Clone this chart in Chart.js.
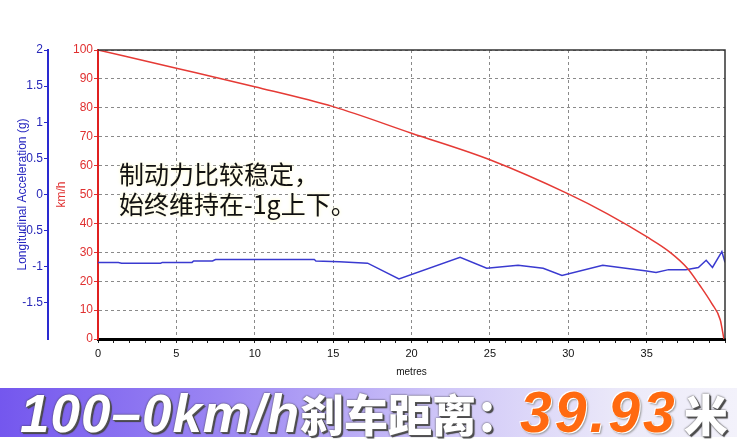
<!DOCTYPE html>
<html>
<head>
<meta charset="utf-8">
<script src="https://cdn.jsdelivr.net/npm/chart.js@4"></script>
<style>
  body { margin: 0; background: #fff; }
  #wrap { position: relative; width: 737px; height: 439px; overflow: hidden; }
  #chart { position: absolute; left: 0; top: 0; }
  #note {
    position: absolute; left: 119px; top: 158px;
    font-family: "Noto Sans CJK SC", sans-serif; font-size: 25px; line-height: 30px;
    color: #111; text-shadow: 0 0 3px #fffbd8, 0 0 5px #fffbd8;
  }
  #banner {
    position: absolute; left: 0; top: 388px; width: 737px; height: 49px;
    background: linear-gradient(90deg, #7457ee 0%, #9b86f3 30%, #cfc6f8 60%, #eceaf9 85%, #f3f2fb 100%);
    white-space: nowrap; line-height: 49px;
    font-weight: bold; font-style: italic; color: #fff;
    text-shadow: 1px 1px 0 #555, 2px 2px 1px #444, 0 0 2px #333;
  }
  #banner .lat { font-family: "Liberation Sans", Arial, sans-serif; font-size: 53px; letter-spacing: 1px; }
  #banner .cjk { font-family: "Noto Sans CJK SC", sans-serif; font-size: 44px; font-weight: 900; font-style: normal; }
  #banner .num { font-family: "Liberation Sans", Arial, sans-serif; font-size: 57px; color: #ff6a10; letter-spacing: 3px;
    text-shadow: 1px 1px 0 #fff, -1px -1px 0 #fff, 2px 2px 2px #999; }
</style>
</head>
<body>
<div id="wrap">
  <canvas id="chart" width="737" height="385"></canvas>
  <div id="note">制动力比较稳定，<br>始终维持在-1g上下。</div>
  <div id="banner"><span class="lat" style="margin-left:20px">100–0km/h</span><span class="cjk">刹车距离：</span><span class="num">39.93</span><span class="cjk" style="margin-left:6px">米</span></div>
</div>
<script>
// speed curve (km/h vs metres)
const speedDist = [0, 5, 10, 15, 20, 25, 30, 32.5, 35, 36.5, 37.6, 38.4, 39.15, 39.7, 39.93];
const speedKmh = [100, 93.7, 87.3, 80.4, 71.2, 62, 50.2, 43.3, 35.4, 30, 24.5, 18.5, 12.3, 6.6, 0];

// longitudinal acceleration (g vs metres)
const accDist = [0, 1.3, 1.5, 4.0, 4.1, 6.0, 6.1, 7.3, 7.5, 13.8, 13.9, 15.4, 17.2, 19.2, 23.1, 24.8, 26.8, 28.4,
  29.6, 32.2, 35.0, 35.6, 36.4, 37.5, 38.3, 38.8, 39.2, 39.8, 40];
const accG = [-0.94, -0.94, -0.95, -0.95, -0.94, -0.94, -0.92, -0.92, -0.90, -0.90, -0.92, -0.93, -0.95, -1.17,
  -0.87, -1.02, -0.98, -1.02, -1.12, -0.98, -1.06, -1.08, -1.04, -1.04, -1.01, -0.91, -1.01, -0.79, -0.94];

const xTicks = [0, 5, 10, 15, 20, 25, 30, 35];
const speedTicks = [0, 10, 20, 30, 40, 50, 60, 70, 80, 90, 100];
const accTicks = [-1.5, -1, -0.5, 0, 0.5, 1, 1.5, 2];

const labelFont = { family: 'Liberation Sans', size: 12 };

// top and right frame of the plot
const framePlugin = {
  id: 'frame',
  afterDatasetsDraw(chart) {
    const { ctx, chartArea: a } = chart;
    ctx.save();
    ctx.strokeStyle = '#333';
    ctx.lineWidth = 1.5;
    ctx.beginPath();
    ctx.moveTo(a.left, a.top);
    ctx.lineTo(a.right, a.top);
    ctx.lineTo(a.right, a.bottom);
    ctx.stroke();
    ctx.restore();
  }
};

new Chart(document.getElementById('chart'), {
  type: 'line',
  data: {
    datasets: [{
      label: 'km/h',
      data: speedDist.map((d, i) => ({ x: d, y: speedKmh[i] })),
      borderColor: '#e53a35',
      borderWidth: 1.5,
      pointRadius: 0,
      cubicInterpolationMode: 'monotone',
      yAxisID: 'speed'
    }, {
      label: 'Longitudinal Acceleration (g)',
      data: accDist.map((d, i) => ({ x: d, y: accG[i] })),
      borderColor: '#3a3ad0',
      borderWidth: 1.5,
      pointRadius: 0,
      tension: 0,
      yAxisID: 'acc'
    }]
  },
  options: {
    responsive: false,
    animation: false,
    layout: { padding: { top: 50, right: 12, bottom: 3, left: 0 } },
    plugins: { legend: { display: false }, tooltip: { enabled: false } },
    scales: {
      x: {
        type: 'linear', min: 0, max: 40,
        afterBuildTicks: s => { s.ticks = []; for (let v = 0; v <= 40; v++) s.ticks.push({ value: v }); },
        afterFit: s => { s.height = 43; },
        ticks: {
          autoSkip: false, maxRotation: 0, padding: 4, color: '#111', font: { family: 'Liberation Sans', size: 11 },
          callback: v => xTicks.includes(v) ? String(v) : ''
        },
        grid: {
          color: c => xTicks.includes(c.tick.value) ? '#8a8a8a' : 'transparent',
          tickColor: '#222', tickLength: 4, lineWidth: 1
        },
        border: { color: '#000', width: 3, dash: [3, 3] },
        title: { display: true, text: 'metres', color: '#111', font: { family: 'Liberation Sans', size: 10 }, padding: { top: 0, bottom: 4 } }
      },
      speed: {
        position: 'left', weight: 0, min: 0, max: 100,
        afterBuildTicks: s => { s.ticks = speedTicks.map(v => ({ value: v })); },
        afterFit: s => { s.width = 50; },
        ticks: { color: '#e03030', font: labelFont, padding: 1 },
        grid: { color: '#8a8a8a', tickColor: '#e03030', tickLength: 4 },
        border: { color: '#e02020', width: 2, dash: [3, 3] },
        title: { display: true, text: 'km/h', color: '#e03030', font: { family: 'Liberation Sans', size: 12 }, padding: { top: 6, bottom: 0 } }
      },
      acc: {
        position: 'left', weight: 1, min: -2, max: 2,
        afterBuildTicks: s => { s.ticks = accTicks.map(v => ({ value: v })); },
        afterFit: s => { s.width = 48; },
        ticks: { color: '#2828b8', font: labelFont, padding: 1, callback: v => String(v) },
        grid: { drawOnChartArea: false, tickColor: '#2828c8', tickLength: 4 },
        border: { color: '#2a2ad0', width: 2 },
        title: { display: true, text: 'Longitudinal Acceleration (g)', color: '#2828c0', font: { family: 'Liberation Sans', size: 12 }, padding: { top: 15, bottom: 0 } }
      }
    }
  },
  plugins: [framePlugin]
});
</script>
</body>
</html>
